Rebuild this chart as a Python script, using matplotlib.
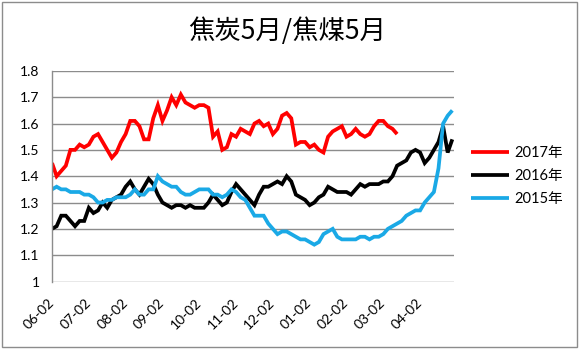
import matplotlib
matplotlib.use("Agg")
import matplotlib.pyplot as plt
from matplotlib.patches import Rectangle
import numpy as np

plt.rcParams['font.family'] = ['Lato', 'Noto Sans CJK SC', 'DejaVu Sans']

title = "焦炭5月/焦煤5月"
tick_labels = ["06-02", "07-02", "08-02", "09-02", "10-02", "11-02",
               "12-02", "01-02", "02-02", "03-02", "04-02"]
points_per_month = 8

s2017 = [1.45, 1.40, 1.42, 1.44, 1.50, 1.50, 1.52, 1.51, 1.52, 1.55,
         1.56, 1.53, 1.50, 1.47, 1.49, 1.53, 1.56, 1.61, 1.61, 1.59,
         1.54, 1.54, 1.62, 1.67, 1.61, 1.65, 1.70, 1.67, 1.71, 1.68,
         1.67, 1.66, 1.67, 1.67, 1.66, 1.55, 1.57, 1.50, 1.51, 1.56,
         1.55, 1.58, 1.57, 1.56, 1.60, 1.61, 1.59, 1.60, 1.56, 1.58,
         1.63, 1.64, 1.62, 1.52, 1.53, 1.53, 1.51, 1.52, 1.50, 1.49,
         1.55, 1.57, 1.58, 1.59, 1.55, 1.56, 1.58, 1.56, 1.55, 1.56,
         1.59, 1.61, 1.61, 1.59, 1.58, 1.56]

s2016 = [1.20, 1.21, 1.25, 1.25, 1.23, 1.21, 1.23, 1.23, 1.28, 1.26,
         1.27, 1.30, 1.28, 1.31, 1.32, 1.33, 1.36, 1.38, 1.35, 1.33,
         1.36, 1.39, 1.37, 1.33, 1.30, 1.29, 1.28, 1.29, 1.29, 1.28,
         1.29, 1.28, 1.28, 1.28, 1.30, 1.33, 1.31, 1.29, 1.30, 1.34,
         1.37, 1.35, 1.33, 1.31, 1.29, 1.33, 1.36, 1.36, 1.37, 1.38,
         1.37, 1.40, 1.38, 1.33, 1.32, 1.31, 1.29, 1.30, 1.32, 1.33,
         1.36, 1.35, 1.34, 1.34, 1.34, 1.33, 1.35, 1.37, 1.36, 1.37,
         1.37, 1.37, 1.38, 1.38, 1.40, 1.44, 1.45, 1.46, 1.49, 1.50,
         1.49, 1.45, 1.47, 1.50, 1.53, 1.59, 1.49, 1.54]

s2015 = [1.35, 1.36, 1.35, 1.35, 1.34, 1.34, 1.34, 1.33, 1.33, 1.32,
         1.30, 1.30, 1.31, 1.31, 1.32, 1.32, 1.32, 1.33, 1.35, 1.33,
         1.33, 1.35, 1.35, 1.40, 1.38, 1.37, 1.36, 1.36, 1.34, 1.33,
         1.33, 1.34, 1.35, 1.35, 1.35, 1.33, 1.33, 1.32, 1.33, 1.35,
         1.34, 1.32, 1.31, 1.28, 1.25, 1.25, 1.25, 1.22, 1.20, 1.18,
         1.19, 1.19, 1.18, 1.17, 1.16, 1.16, 1.15, 1.14, 1.15, 1.18,
         1.19, 1.20, 1.17, 1.16, 1.16, 1.16, 1.16, 1.17, 1.17, 1.16,
         1.17, 1.17, 1.18, 1.20, 1.21, 1.22, 1.23, 1.25, 1.26, 1.27,
         1.27, 1.30, 1.32, 1.34, 1.43, 1.60, 1.63, 1.65]

series = [("2017年", s2017, "#ff0000"),
          ("2016年", s2016, "#000000"),
          ("2015年", s2015, "#1aa9e6")]

fig = plt.figure(figsize=(5.8, 3.51), dpi=100)
ax = fig.add_axes([0.0897, 0.198, 0.6933, 0.600])

for name, vals, col in series:
    ax.plot(np.arange(len(vals)), vals, color=col, lw=2.7, label=name,
            solid_joinstyle='miter', solid_capstyle='butt')

ax.set_ylim(1.0, 1.8)
ax.set_yticks(np.arange(1.0, 1.81, 0.1))
ax.set_yticklabels(["1", "1.1", "1.2", "1.3", "1.4", "1.5", "1.6", "1.7", "1.8"],
                   fontsize=10)
ax.set_xlim(0, 87.4)
ax.set_xticks(np.arange(len(tick_labels)) * points_per_month)
ax.set_xticklabels(tick_labels, rotation=45, ha='right', va='center',
                   rotation_mode='anchor', fontsize=10)
ax.tick_params(axis='x', length=0, pad=14)
ax.tick_params(axis='y', length=0, pad=9)
ax.grid(axis='y', color='#8c8c8c', lw=1)
ax.set_axisbelow(True)
for s in ['top', 'right', 'bottom']:
    ax.spines[s].set_visible(False)
ax.spines['left'].set_color('#8c8c8c')
ax.spines['left'].set_linewidth(1)

ax.legend(loc='center left', bbox_to_anchor=(1.01, 0.5), frameon=False,
          fontsize=10.5, handlelength=2.6, handletextpad=0.35,
          labelspacing=0.6)

fig.text(0.495, 0.912, title, ha='center', va='center', fontsize=19,
         family=['Noto Sans CJK SC'])

fig.patches.append(Rectangle((0.004, 0.011), 0.99, 0.983, transform=fig.transFigure,
                             fill=False, edgecolor='#8c8c8c', lw=1))

fig.savefig("out.png", dpi=100)
